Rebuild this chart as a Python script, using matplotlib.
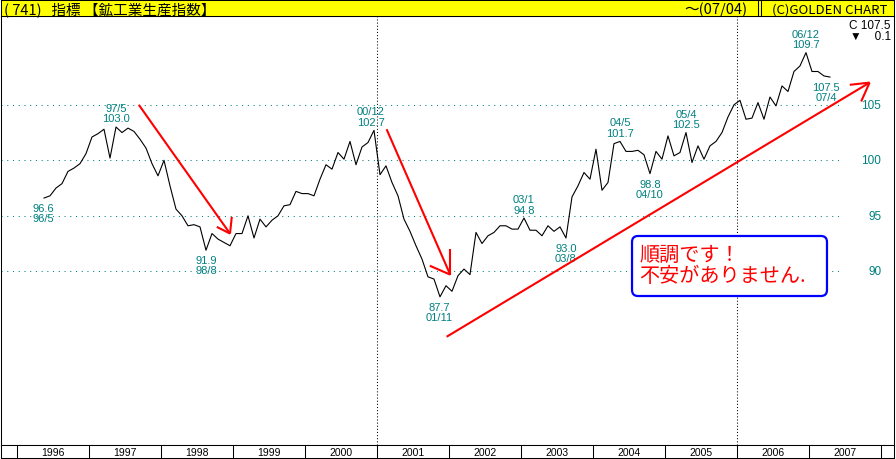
import numpy as np
import matplotlib
matplotlib.use('Agg')
import matplotlib.pyplot as plt
import matplotlib.transforms as mtransforms
from matplotlib.patches import FancyBboxPatch

# 鉱工業生産指数 (monthly), 1996/5 - 2007/4
start_month = 4  # months counted from 1996/1
index_values = [
    96.6, 96.8, 97.5, 97.9, 99.0, 99.3, 99.7, 100.6,                                  # 1996/5-12
    102.1, 102.4, 102.8, 100.2, 103.0, 102.5, 102.9, 102.6, 101.9, 101.1, 99.7, 98.6,   # 1997
    100.0, 97.7, 95.6, 95.0, 94.1, 94.2, 94.0, 91.9, 93.4, 92.9, 92.6, 92.3,            # 1998
    93.4, 93.4, 95.0, 93.0, 94.7, 94.0, 94.6, 95.0, 95.9, 96.0, 97.2, 97.0,             # 1999
    97.0, 96.8, 98.3, 99.6, 99.2, 100.7, 100.1, 101.7, 99.6, 101.2, 101.6, 102.7,       # 2000
    98.7, 99.5, 98.0, 96.8, 94.7, 93.6, 92.3, 91.1, 89.5, 89.3, 87.7, 88.7,             # 2001
    88.2, 89.6, 90.2, 89.7, 93.5, 92.5, 93.2, 93.5, 94.1, 94.1, 93.8, 93.8,             # 2002
    94.8, 93.7, 93.7, 93.2, 94.1, 93.6, 94.0, 93.0, 96.7, 97.7, 98.9, 98.3,             # 2003
    101.0, 97.3, 98.0, 101.5, 101.7, 100.8, 100.8, 100.9, 100.5, 98.8, 100.8, 100.1,    # 2004
    102.2, 100.4, 100.7, 102.5, 99.8, 101.3, 100.1, 101.3, 101.7, 102.5, 103.9, 105.0,  # 2005
    105.4, 103.7, 103.8, 105.2, 103.7, 105.7, 104.9, 106.7, 106.2, 108.0, 108.5, 109.7, # 2006
    108.0, 108.0, 107.6, 107.5,                                                         # 2007/1-4
]
years = list(range(1996, 2008))
y_ticks = [90, 95, 100, 105]

# highs / lows marked on the chart: (month index, side, x shift px)
marked_points = [(4, 'below', -1), (16, 'above', 0), (31, 'below', 0), (59, 'above', -3),
                 (70, 'below', -1), (84, 'above', 0), (91, 'below', 0), (100, 'above', 0),
                 (105, 'below', 0), (111, 'above', 0), (131, 'above', 0), (135, 'below', -4)]

# hand drawn red arrows: shaft start, tip, two barb ends (month index, value)
arrows = [
    [(19.8, 105.0), (35.0, 93.4), (32.8, 94.0), (35.3, 94.9)],
    [(61.1, 102.8), (71.7, 89.7), (68.3, 90.5), (71.7, 92.0)],
    [(71.1, 84.1), (141.6, 107.0), (138.3, 106.8), (140.2, 105.3)],
]

comment = ['順調です！', '不安がありません.']

TEAL = '#008080'
W, H = 896, 460
fig = plt.figure(figsize=(W / 100, H / 100), dpi=100)
fig.patch.set_facecolor('white')


def px_box(x0, y0, x1, y1):
    return [x0 / W, 1 - y1 / H, (x1 - x0) / W, (y1 - y0) / H]


ax = fig.add_axes(px_box(0.5, 17, 894, 446))
ax.set_xlim(-3.25, 145.67)
ax.set_ylim(74.35, 113.0)
ax.set_xticks([])
ax.set_yticks([])
for s in ax.spines.values():
    s.set_linewidth(0.75)
    s.set_color('black')

months = np.arange(start_month, start_month + len(index_values))
ax.plot(months, index_values, color='black', lw=0.8, zorder=3)

# grid
for v in y_ticks:
    ax.axhline(v, xmin=0, xmax=0.9395, color=TEAL, lw=0.75, ls=(0, (1, 4.5)), zorder=1)
ytrans = mtransforms.blended_transform_factory(ax.transAxes, ax.transData)
for v in y_ticks:
    ax.text(0.9856, v, str(v), transform=ytrans, ha='right', va='center',
            color=TEAL, fontsize=8.5, family='Liberation Sans')
for yr in (2001, 2006):
    ax.axvline(12 * (yr - 1996) - 0.5, color='black', lw=0.75, ls=(0, (1, 2)), zorder=1)

# marked highs / lows
for m, side, dx in marked_points:
    val = index_values[m - start_month]
    date_txt = '%02d/%d' % ((96 + m // 12) % 100, m % 12 + 1)
    val_txt = '%.1f' % val
    if side == 'above':
        lines = [(date_txt, 19), (val_txt, 8.5)]
        sign = 1
    else:
        lines = [(val_txt, 10), (date_txt, 20)]
        sign = -1
    for t, off in lines:
        ax.annotate(t, (m, val), xytext=(dx * 0.72, sign * off * 0.72), textcoords='offset points',
                    ha='center', va='center', color=TEAL, fontsize=8, family='Liberation Sans')

# latest value and change
last = index_values[-1]
chg = last - index_values[-2]
ax.text(0.9966, 0.979, 'C %.1f' % last, transform=ax.transAxes, ha='right', va='center',
        fontsize=8.5, family=['Liberation Sans', 'DejaVu Sans'])
ax.text(0.9966, 0.953, '%s    %.1f' % ('▼' if chg < 0 else '▲', abs(chg)), transform=ax.transAxes,
        ha='right', va='center', fontsize=8.5, family=['Liberation Sans', 'DejaVu Sans'])

# red arrows
for start, tip, b1, b2 in arrows:
    for p in (start, b1, b2):
        ax.plot([p[0], tip[0]], [p[1], tip[1]], color='red', lw=1.5, solid_capstyle='butt', zorder=4)

# comment box
box = FancyBboxPatch((0.7068, 0.3473), 0.2182, 0.1399, transform=ax.transAxes,
                     boxstyle='round,pad=0,rounding_size=0.0067', mutation_aspect=893.5 / 429,
                     fc='white', ec='#0000ff', lw=1.6, zorder=5)
ax.add_patch(box)
ax.text(0.7146, 0.4452, comment[0], transform=ax.transAxes, ha='left', va='center', color='red',
        fontsize=14.5, family=['Noto Sans CJK JP', 'DejaVu Sans'], zorder=6)
ax.text(0.7146, 0.3946, comment[1], transform=ax.transAxes, ha='left', va='center', color='red',
        fontsize=14.5, family=['Noto Sans CJK JP', 'DejaVu Sans'], zorder=6)

# header bar
hdr = fig.add_axes(px_box(0.5, 0.5, 894, 17))
hdr.set_facecolor('#ffff00')
hdr.set_xlim(0, 1)
hdr.set_ylim(0, 1)
hdr.set_xticks([])
hdr.set_yticks([])
for s in hdr.spines.values():
    s.set_linewidth(0.75)
hdr.axvline(0.8478, color='black', lw=0.75)
hdr.axvline(0.8511, color='black', lw=0.75)
hfam = ['Noto Sans CJK JP', 'DejaVu Sans']
hdr.text(0.004, 0.45, '( 741)   指標 【鉱工業生産指数】', ha='left', va='center', fontsize=10.5, family=hfam)
hdr.text(0.8355, 0.45, '～(07/04)', ha='right', va='center', fontsize=10.5, family=hfam)
hdr.text(0.8635, 0.45, '(C)GOLDEN CHART', ha='left', va='center', fontsize=9.5, family=hfam)

# year bar
bot = fig.add_axes(px_box(0.5, 446, 894, 459))
bot.set_xlim(ax.get_xlim())
bot.set_ylim(0, 1)
bot.set_xticks([])
bot.set_yticks([])
for s in bot.spines.values():
    s.set_linewidth(0.75)
for yr in years + [2008]:
    bot.axvline(12 * (yr - 1996) - 0.5, color='black', lw=0.75)
for yr in years:
    bot.text(12 * (yr - 1996) + 5.5, 0.45, str(yr), ha='center', va='center',
             fontsize=7.5, family='Liberation Sans')

fig.savefig('out.png', dpi=100)
